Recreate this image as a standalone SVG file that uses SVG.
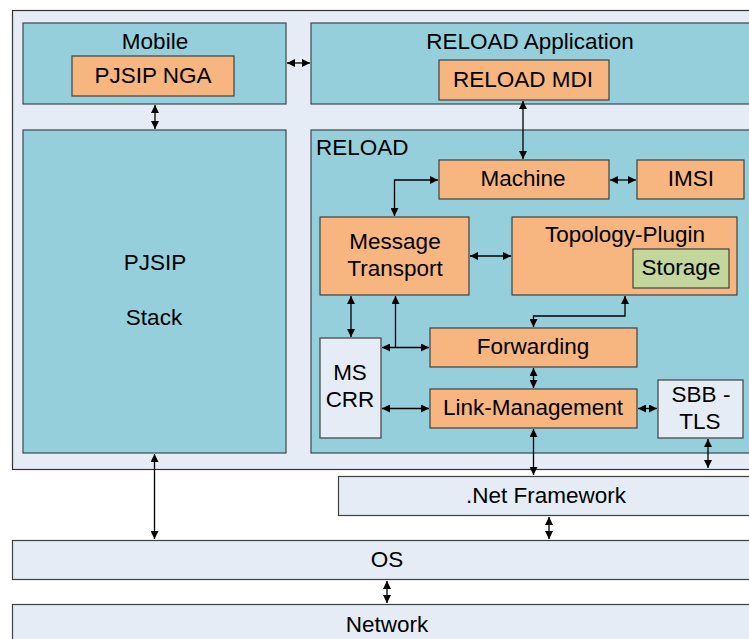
<svg xmlns="http://www.w3.org/2000/svg" width="749" height="639" viewBox="0 0 749 639">
<defs>
<marker id="ah" viewBox="0 0 10 10" refX="10" refY="5" markerWidth="9" markerHeight="8" markerUnits="userSpaceOnUse" orient="auto-start-reverse">
<path d="M0,0 L10,5 L0,10 z" fill="#000"/>
</marker>
</defs>
<style>
.light{fill:#E5ECF6;stroke:#333;stroke-width:1.2}
.teal{fill:#96CFDC;stroke:#3a4a4e;stroke-width:1.2}
.orange{fill:#F7B57F;stroke:#404040;stroke-width:1.2}
.green{fill:#C3D69B;stroke:#404040;stroke-width:1.2}
.pale{fill:#E5ECF6;stroke:#404040;stroke-width:1.2}
text{font-family:"Liberation Sans",Arial,sans-serif;font-size:22.5px;fill:#000;text-anchor:middle}
.c line,.c path{stroke:#000;stroke-width:1.3;fill:none;marker-start:url(#ah);marker-end:url(#ah)}
</style>
<rect x="0" y="0" width="749" height="639" fill="#fff"/>
<g id="outer"><rect class="light" x="12.5" y="10.5" width="745" height="459"/></g>
<g id="mobile"><rect class="teal" x="23" y="23" width="263" height="81"/><text x="155" y="49">Mobile</text></g>
<g id="pjsip-nga"><rect class="orange" x="72" y="56" width="162" height="40"/><text x="153" y="83">PJSIP NGA</text></g>
<g id="reload-app"><rect class="teal" x="311" y="23" width="450" height="81"/><text x="530" y="49">RELOAD Application</text></g>
<g id="reload-mdi"><rect class="orange" x="439" y="60" width="170" height="40"/><text x="523" y="87">RELOAD MDI</text></g>
<g id="pjsip-stack"><rect class="teal" x="23" y="130" width="263" height="323"/><text x="155" y="270">PJSIP</text><text x="154" y="325">Stack</text></g>
<g id="reload"><rect class="teal" x="311" y="130" width="450" height="323"/><text x="316" y="155" style="text-anchor:start">RELOAD</text></g>
<g id="machine"><rect class="orange" x="439" y="160" width="170" height="39"/><text x="523" y="186">Machine</text></g>
<g id="imsi"><rect class="orange" x="637" y="160" width="107" height="39"/><text x="691" y="186">IMSI</text></g>
<g id="message-transport"><rect class="orange" x="320" y="217" width="149" height="78"/><text x="395" y="249">Message</text><text x="395" y="276">Transport</text></g>
<g id="topology-plugin"><rect class="orange" x="512" y="217" width="225" height="78"/><text x="625" y="242">Topology-Plugin</text></g>
<g id="storage"><rect class="green" x="633" y="249" width="96" height="39"/><text x="681" y="275">Storage</text></g>
<g id="forwarding"><rect class="orange" x="430" y="328" width="207" height="39"/><text x="533" y="354">Forwarding</text></g>
<g id="link-management"><rect class="orange" x="430" y="389" width="207" height="39"/><text x="533" y="415">Link-Management</text></g>
<g id="ms-crr"><rect class="pale" x="320" y="338" width="61" height="100"/><text x="350" y="380">MS</text><text x="350" y="407">CRR</text></g>
<g id="sbb-tls"><rect class="pale" x="658" y="380" width="85" height="58"/><text x="701" y="402">SBB -</text><text x="700" y="429">TLS</text></g>
<g id="net-framework"><rect class="pale" x="338.5" y="476.5" width="420" height="39"/><text x="546" y="503">.Net Framework</text></g>
<g id="os"><rect class="pale" x="12.5" y="540.5" width="745" height="39"/><text x="387" y="567">OS</text></g>
<g id="network"><rect class="pale" x="12.5" y="604.5" width="745" height="45"/><text x="387" y="632">Network</text></g>
<g id="connectors" class="c">
<line x1="287" y1="63" x2="310" y2="63"/>
<line x1="155" y1="105" x2="155" y2="129"/>
<line x1="523" y1="101" x2="523" y2="159"/>
<line x1="610" y1="180" x2="636" y2="180"/>
<path d="M438,180 H394.5 V216"/>
<line x1="470" y1="256" x2="511" y2="256"/>
<line x1="351" y1="296" x2="351" y2="337"/>
<path d="M395.5,296 V347" style="marker-end:none"/>
<line x1="382" y1="347.5" x2="429" y2="347.5"/>
<path d="M625,296 V316 H533.5 V327"/>
<line x1="533.5" y1="368" x2="533.5" y2="388"/>
<line x1="382" y1="408.5" x2="429" y2="408.5"/>
<line x1="638" y1="408.5" x2="657" y2="408.5"/>
<line x1="533.5" y1="429" x2="533.5" y2="475"/>
<line x1="708" y1="439" x2="708" y2="468"/>
<line x1="154.5" y1="454" x2="154.5" y2="539"/>
<line x1="549" y1="517" x2="549" y2="539"/>
<line x1="387" y1="581" x2="387" y2="603"/>
</g>
</svg>
